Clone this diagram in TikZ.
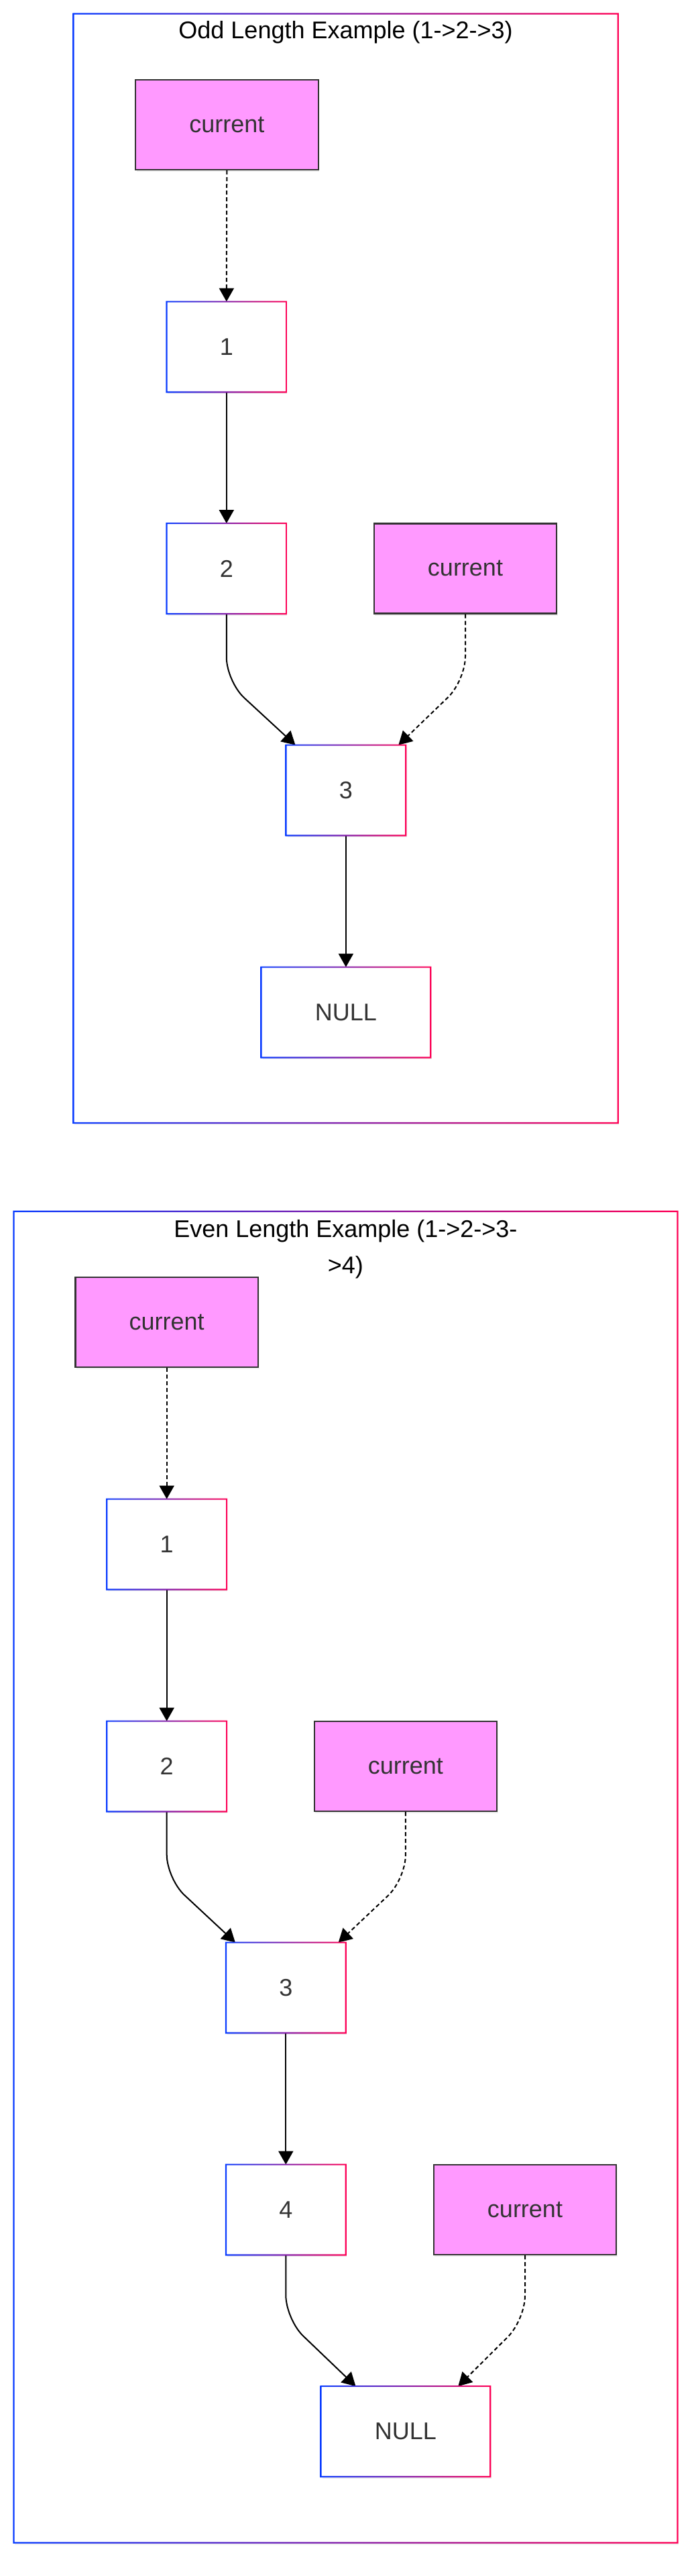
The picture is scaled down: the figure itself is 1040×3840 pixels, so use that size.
\documentclass[tikz,border=0pt]{standalone}
\usepackage{fontspec}
\setmainfont{Liberation Sans}
\usetikzlibrary{arrows.meta,shadows,calc}
\definecolor{cb}{HTML}{0A3CFF}
\definecolor{cr}{HTML}{FF0055}
\definecolor{curfill}{HTML}{FF99FF}
\definecolor{txt}{HTML}{333333}
\tikzset{
  base/.style={rectangle, inner sep=0pt, font=\fontsize{18}{22}\selectfont, text=txt,
    drop shadow={shadow xshift=0.8pt, shadow yshift=-1.5pt, opacity=0.12}},
  lnode/.style={base, fill=white, draw=none, minimum width=89pt, minimum height=67pt},
  nullnode/.style={lnode, minimum width=126pt},
  curnode/.style={base, fill=curfill, draw=txt, line width=1.1pt, minimum width=136.3pt, minimum height=67pt},
  title/.style={font=\fontsize{18}{27}\selectfont, text=black, align=center, inner sep=0pt},
  gb/.style={left color=cb, right color=cr, even odd rule},
  link/.style={-{Triangle[length=10pt,width=11pt]}, line width=1pt, black, rounded corners=18pt},
  dlink/.style={link, dash pattern=on 3pt off 2pt}
}
\newcommand{\gborder}[1]{%
  \shade[gb] ([shift={(-1.1,-1.1)}]#1.north west) rectangle ([shift={(1.1,1.1)}]#1.south east)
             ([shift={(1.1,1.1)}]#1.north west) rectangle ([shift={(-1.1,-1.1)}]#1.south east);}
\begin{document}
\begin{tikzpicture}[x=0.5pt,y=-0.5pt]
\useasboundingbox[fill=white] (0,0) rectangle (1040,3840);
% outer frames
\coordinate (b1nw) at (109.4,20.5); \coordinate (b1se) at (921.8,1674);
\coordinate (b2nw) at (20.4,1805.7); \coordinate (b2se) at (1010.5,3790.5);
\fill[white, drop shadow={shadow xshift=0.8pt, shadow yshift=-1.5pt, opacity=0.1}] (b1nw) rectangle (b1se);
\fill[white, drop shadow={shadow xshift=0.8pt, shadow yshift=-1.5pt, opacity=0.1}] (b2nw) rectangle (b2se);
\shade[gb] ([shift={(-1.1,-1.1)}]b1nw) rectangle ([shift={(1.1,1.1)}]b1se) ([shift={(1.1,1.1)}]b1nw) rectangle ([shift={(-1.1,-1.1)}]b1se);
\shade[gb] ([shift={(-1.1,-1.1)}]b2nw) rectangle ([shift={(1.1,1.1)}]b2se) ([shift={(1.1,1.1)}]b2nw) rectangle ([shift={(-1.1,-1.1)}]b2se);
\node[title] (t1) at (515.6,48) {Odd Length Example (1->2->3)};
\node[title] (t2) at (515.4,1862) {Even Length Example (1->2->3-\\>4)};
% odd example
\node[curnode] (cur1) at (338.3,186) {current};
\node[lnode] (n1) at (337.8,517) {1};
\node[lnode] (n2) at (337.8,847.5) {2};
\node[curnode] (cur2) at (694,847.5) {current};
\node[lnode] (n3) at (515.9,1178) {3};
\node[nullnode] (null1) at (515.9,1509) {NULL};
% even example
\node[curnode] (cur3) at (248.7,1971) {current};
\node[lnode] (m1) at (248.7,2302) {1};
\node[lnode] (m2) at (248.7,2633) {2};
\node[curnode] (cur4) at (604.9,2633) {current};
\node[lnode] (m3) at (426.3,2963) {3};
\node[lnode] (m4) at (426.3,3294) {4};
\node[curnode] (cur5) at (783,3294) {current};
\node[nullnode] (null2) at (604.9,3624.5) {NULL};
% edges odd
\draw[dlink] (cur1.south) -- (n1.north);
\draw[link] (n1.south) -- (n2.north);
\draw[link] (n2.south) -- ++(0,101) -- ($(n3.north west)+(14,0)$);
\draw[dlink] (cur2.south) -- ++(0,99) -- ($(n3.north east)+(-11,0)$);
\draw[link] (n3.south) -- (null1.north);
% edges even
\draw[dlink] (cur3.south) -- (m1.north);
\draw[link] (m1.south) -- (m2.north);
\draw[link] (m2.south) -- ++(0,100) -- ($(m3.north west)+(14,0)$);
\draw[dlink] (cur4.south) -- ++(0,100) -- ($(m3.north east)+(-11,0)$);
\draw[link] (m3.south) -- (m4.north);
\draw[link] (m4.south) -- ++(0,96) -- ($(null2.north west)+(52,0)$);
\draw[dlink] (cur5.south) -- ++(0,96) -- ($(null2.north east)+(-48,0)$);
% gradient borders
\foreach \nd in {n1,n2,n3,null1,m1,m2,m3,m4,null2} {\gborder{\nd}}
\end{tikzpicture}
\end{document}
